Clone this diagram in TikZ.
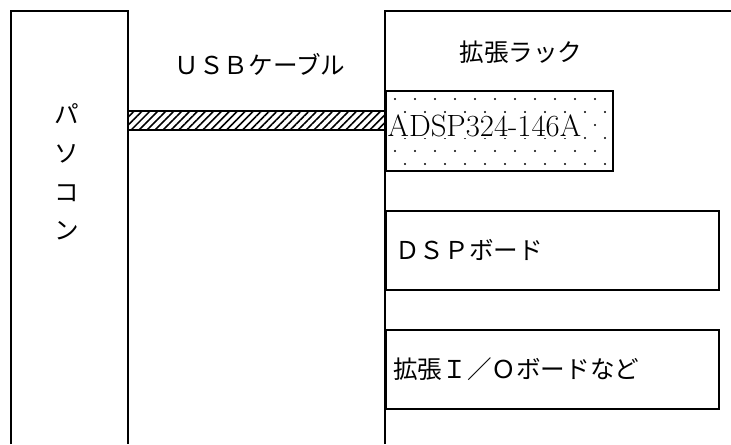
\documentclass[tikz,border=0pt]{standalone}
\usepackage{fontspec}
\newfontfamily\jp{Noto Sans CJK JP}
\usetikzlibrary{patterns.meta,positioning}

\tikzset{
  frame/.style={line width=1.1pt},
  board/.style={draw, line width=0.9pt, anchor=north west, inner sep=0pt},
  jtext/.style={font=\jp\fontsize{14}{22}\selectfont, inner sep=0pt},
}

\begin{document}
\begin{tikzpicture}[x=0.02cm,y=-0.02cm]
\useasboundingbox (0,0) rectangle (731,444);
% pc and rack
\draw[frame] (11,444) -- (11,11) -- (128,11) -- (128,444);
\draw[frame] (385,444) -- (385,11) -- (731,11);
\node[jtext, align=center] (pc) at (67,172) {パ\\ソ\\コ\\ン};
\node[jtext] (usb) at (260,64) {ＵＳＢケーブル};
\node[jtext] (rack) at (521,52) {拡張ラック};
% boards
\node[board, minimum width=4.54cm, minimum height=1.6cm] (adsp) at (385,90) {};
\node[board, minimum width=6.66cm, minimum height=1.58cm] (dsp) at (385,210) {};
\node[board, minimum width=6.66cm, minimum height=1.58cm] (io) at (385,329) {};
\foreach \r in {0,...,5}{
  \pgfmathsetmacro{\off}{mod(\r,2)*10}
  \foreach \c in {0,...,10}{
    \fill ({395+20*\c+\off},{99+13*\r}) circle (0.6pt);
  }
}
\node[fill=white, inner sep=0.5pt, anchor=west, font=\fontsize{17.5}{20}\selectfont]
  (adsplabel) at (386.5,126) {ADSP324-146A};
\node[jtext, anchor=west] (dsplabel) at ([xshift=0.2cm]dsp.west) {ＤＳＰボード};
\node[jtext, anchor=west] (iolabel) at ([xshift=0.16cm]io.west) {拡張Ｉ／Ｏボードなど};
% usb cable
\draw[line width=0.9pt, pattern={Lines[angle=45, distance=3.2pt, line width=0.9pt]}]
  (128,111) rectangle (adsp.west |- 0,130);
\end{tikzpicture}
\end{document}
